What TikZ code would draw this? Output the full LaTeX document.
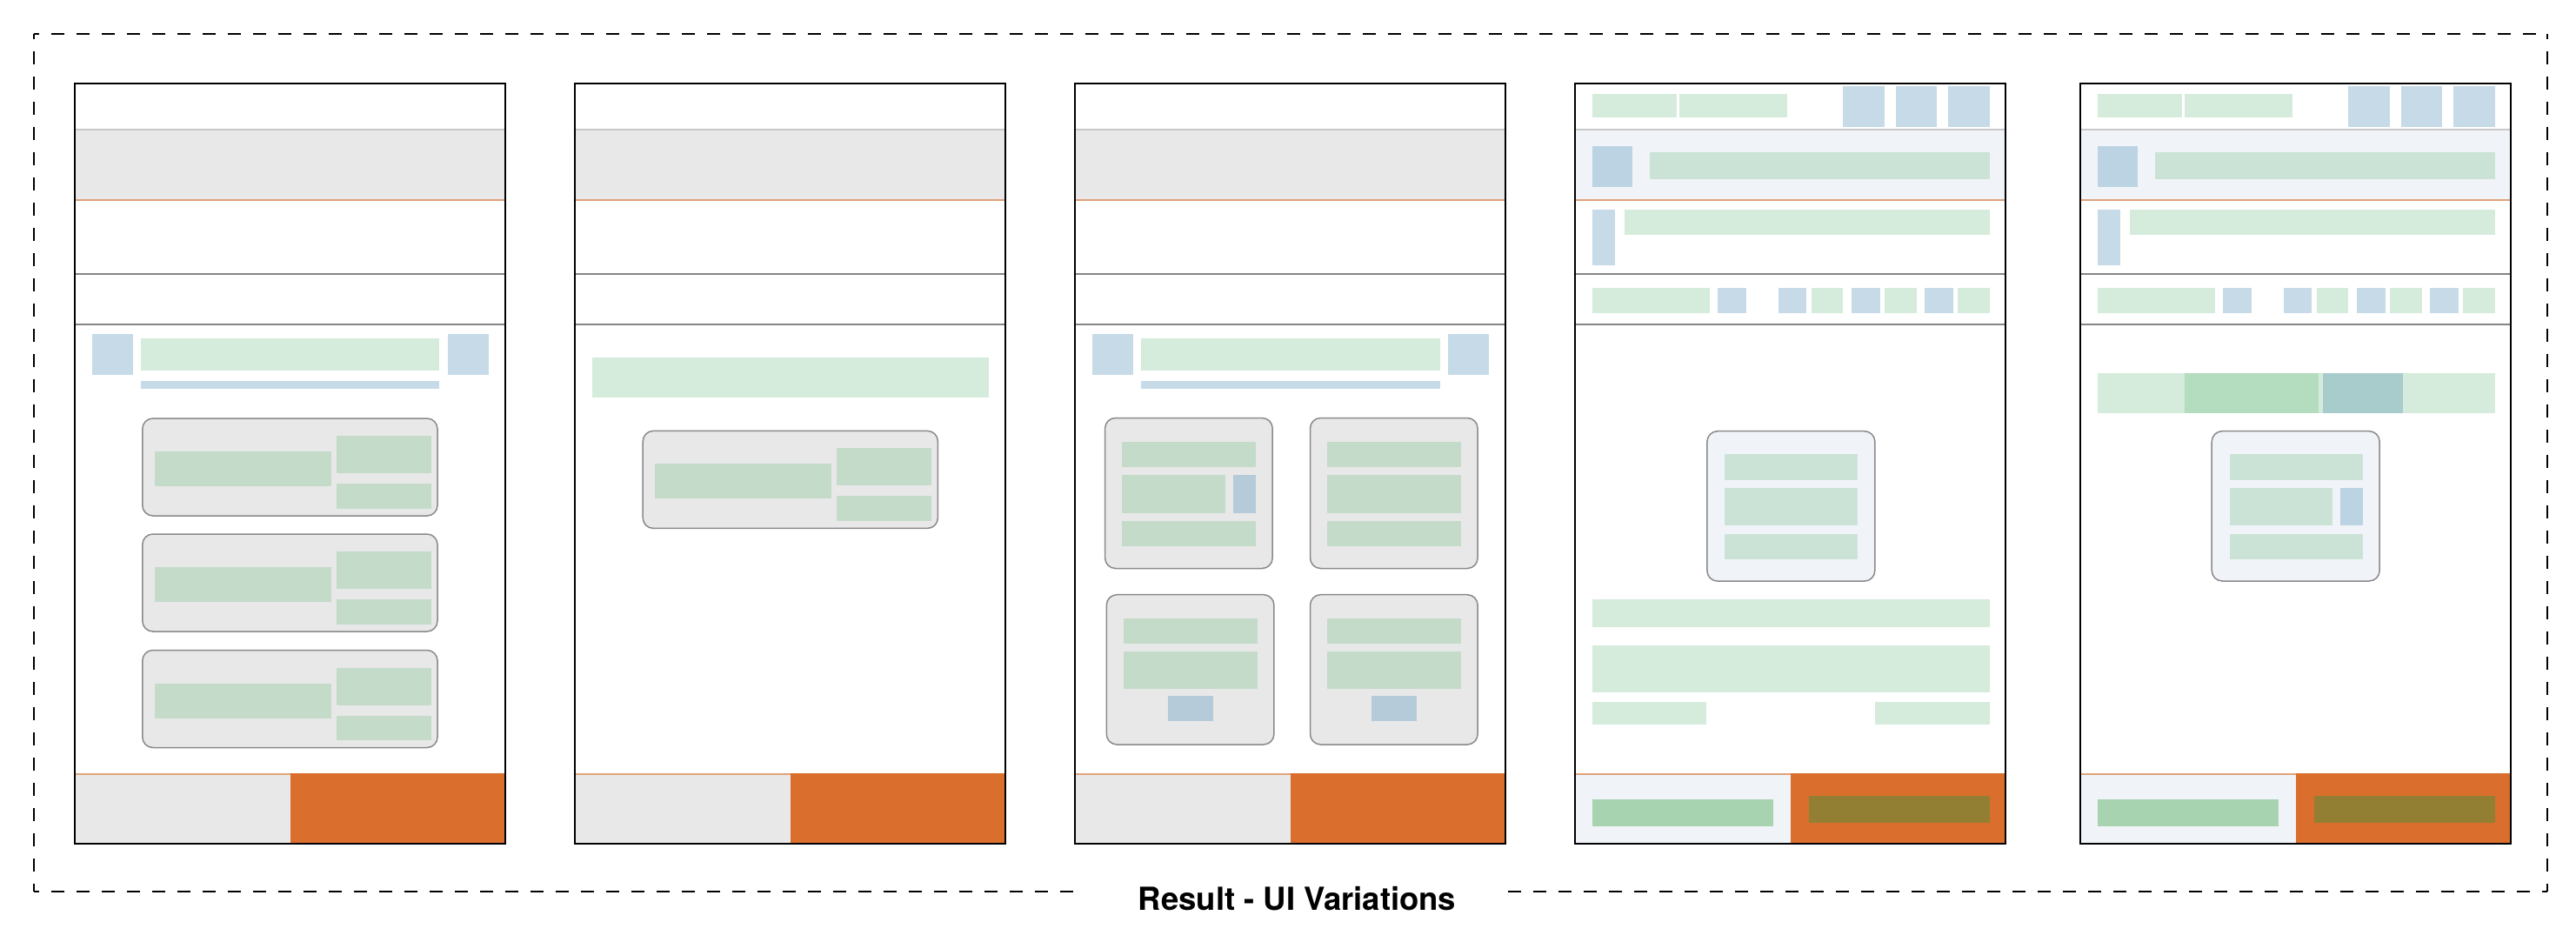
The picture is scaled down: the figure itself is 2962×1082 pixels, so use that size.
\documentclass[tikz,border=0pt]{standalone}
\usepackage{fontspec}
\newfontfamily\labelfont{TeX Gyre Heros}
\definecolor{lgreen}{HTML}{D5EBDB}
\definecolor{cgreen}{HTML}{C4DBCA}
\definecolor{bgreen}{HTML}{CBE3D6}
\definecolor{lblue}{HTML}{C6DBE7}
\definecolor{cblue}{HTML}{B5CBD9}
\definecolor{bblue}{HTML}{BBD3E3}
\definecolor{bandgray}{HTML}{E8E8E8}
\definecolor{bandlight}{HTML}{F0F4F8}
\definecolor{uiorange}{HTML}{DA6E2C}
\definecolor{sepor}{HTML}{E0A27A}
\definecolor{olive}{HTML}{937F33}
\definecolor{btngreen}{HTML}{A8D3B1}
\definecolor{tabgreen}{HTML}{B4DCBF}
\definecolor{tabteal}{HTML}{A7CCCB}
\definecolor{lightline}{HTML}{C8C8C8}
\definecolor{darkline}{HTML}{858585}
\definecolor{cardline}{HTML}{8A8A8A}
\tikzset{
  dashbox/.style={draw=black,line width=2pt,dash pattern=on 15pt off 14pt,dash phase=9pt},
  panelborder/.style={draw=black,line width=2pt},
  toplinestyle/.style={draw=lightline,line width=2pt},
  grayline/.style={draw=darkline,line width=1.8pt},
  orangesep/.style={draw=sepor,line width=2.5pt},
  cardgray/.style={draw=cardline,fill=bandgray,line width=1.5pt,rounded corners=12pt},
  cardlight/.style={draw=cardline,fill=bandlight,line width=1.5pt,rounded corners=12pt},
  labelstyle/.style={font=\labelfont\bfseries\fontsize{36.5}{40}\selectfont,text=black,inner sep=0pt}
}
\newcommand\uib[5]{\fill[#1] (#2,#3) rectangle (#4,#5);}
% panel frame: #1 band colour, #2 bottom-left colour
\newcommand\UIframe[2]{%
  \fill[white] (0,96) rectangle (495,970);
  \fill[#1] (0,148.8) rectangle (495,230);
  \draw[toplinestyle] (0,148.8) -- (495,148.8);
  \draw[orangesep] (0,230) -- (495,230);
  \draw[grayline] (0,315) -- (495,315);
  \draw[grayline] (0,373.3) -- (495,373.3);
  \fill[#2] (0,890) rectangle (247.6,970);
  \fill[uiorange] (247.6,889.2) rectangle (495,970);
  \draw[orangesep,line width=1.8pt] (0,890) -- (247.6,890);
}
\newcommand\UIborder{\draw[panelborder] (0,96) rectangle (495,970);}
% list card (panels 1 and 2), #1 = top
\newcommand\UIcardA[1]{%
  \draw[cardgray] (77.8,#1) rectangle (417,#1+112);
  \uib{cgreen}{92}{#1+38}{294.8}{#1+78}
  \uib{cgreen}{300.5}{#1+20}{410}{#1+63}
  \uib{cgreen}{300.5}{#1+75}{410}{#1+103.5}
}
% header with two blue squares
\newcommand\UIheadA{%
  \uib{lblue}{19.5}{383.5}{66.8}{430.5}
  \uib{lgreen}{76}{389}{419.3}{425.7}
  \uib{lblue}{428.5}{383.5}{476}{430.5}
  \uib{lblue}{76}{438.4}{419.3}{447.4}
}
% header of panels 4 and 5
\newcommand\UIheadB{%
  \uib{lgreen}{19.6}{107.9}{116.4}{134.8}
  \uib{lgreen}{120}{107.9}{244}{134.8}
  \uib{lblue}{308}{98.6}{355.7}{145.8}
  \uib{lblue}{368.5}{98.6}{416}{145.8}
  \uib{lblue}{428.7}{98.6}{476.3}{145.8}
  \uib{bblue}{19.6}{168.2}{65.4}{215.4}
  \uib{bgreen}{85.7}{175.4}{476.3}{206}
  \uib{lblue}{19.6}{240.8}{45.1}{304.5}
  \uib{lgreen}{56.4}{240.8}{476.3}{269.8}
  \uib{lgreen}{19.6}{330.7}{154.6}{359.7}
  \uib{lblue}{163.9}{330.7}{196.6}{359.7}
  \uib{lblue}{233.5}{330.7}{265.8}{359.7}
  \uib{lgreen}{271.6}{330.7}{307.9}{359.7}
  \uib{lblue}{317.5}{330.7}{350.2}{359.7}
  \uib{lgreen}{355.7}{330.7}{392.2}{359.7}
  \uib{lblue}{401.5}{330.7}{434.2}{359.7}
  \uib{lgreen}{439.8}{330.7}{476.3}{359.7}
  \uib{btngreen}{19.6}{918.8}{227.6}{949.5}
  \uib{olive}{268.2}{915}{476.3}{945.7}
}
\begin{document}
\begin{tikzpicture}[x=1pt,y=-1pt]
\useasboundingbox (0,0) rectangle (2962,1082);
\fill[white] (0,0) rectangle (2962,1082);

% outer dashed frame
\draw[dashbox] (38.5,39) -- (2929.3,39);
\draw[dashbox] (38.5,39) -- (38.5,1025);
\draw[dashbox] (2929.3,39) -- (2929.3,1025);
\draw[dashbox] (38.5,1025) -- (1243,1025);
\draw[dashbox] (2929.3,1025) -- (1727,1025);
\node[labelstyle,anchor=base] (lbl) at (1491.5,1046.7) {Result - UI Variations};

% panel 1
\begin{scope}[shift={(86,0)}]
  \UIframe{bandgray}{bandgray}
  \UIheadA
  \UIcardA{481}
  \UIcardA{614}
  \UIcardA{747.5}
  \UIborder
\end{scope}

% panel 2
\begin{scope}[shift={(661.4,0)}]
  \UIframe{bandgray}{bandgray}
  \uib{lgreen}{19.2}{411}{475.6}{456.8}
  \UIcardA{495.4}
  \UIborder
\end{scope}

% panel 3
\begin{scope}[shift={(1236.2,0)}]
  \UIframe{bandgray}{bandgray}
  \UIheadA
  \begin{scope}[shift={(34.4,480.5)}]
    \draw[cardgray] (0,0) rectangle (192.6,173);
    \uib{cgreen}{19.7}{27.5}{173.3}{56.2}
    \uib{cgreen}{19.7}{65.5}{138.4}{109.2}
    \uib{cblue}{147.8}{65.5}{173.3}{109.2}
    \uib{cgreen}{19.7}{118.5}{173.3}{147.1}
  \end{scope}
  \begin{scope}[shift={(270.3,480.5)}]
    \draw[cardgray] (0,0) rectangle (192.6,173);
    \uib{cgreen}{19.7}{27.5}{173.3}{56.2}
    \uib{cgreen}{19.7}{65.5}{173.3}{109.2}
    \uib{cgreen}{19.7}{118.5}{173.3}{147.1}
  \end{scope}
  \begin{scope}[shift={(36.1,683.7)}]
    \draw[cardgray] (0,0) rectangle (192.6,172.3);
    \uib{cgreen}{19.7}{27}{173.3}{56}
    \uib{cgreen}{19.7}{65.5}{173.3}{108.5}
    \uib{cblue}{70.8}{116.4}{122.2}{145.4}
  \end{scope}
  \begin{scope}[shift={(270.3,683.7)}]
    \draw[cardgray] (0,0) rectangle (192.6,172.3);
    \uib{cgreen}{19.7}{27}{173.3}{56}
    \uib{cgreen}{19.7}{65.5}{173.3}{108.5}
    \uib{cblue}{70.8}{116.4}{122.2}{145.4}
  \end{scope}
  \UIborder
\end{scope}

% panel 4
\begin{scope}[shift={(1811.4,0)}]
  \UIframe{bandlight}{bandlight}
  \UIheadB
  \draw[cardlight] (151.5,495.7) rectangle (344.4,668.1);
  \uib{bgreen}{171.1}{522.2}{324.4}{551.5}
  \uib{bgreen}{171.1}{561.1}{324.4}{603.8}
  \uib{bgreen}{171.1}{613.8}{324.4}{642.6}
  \uib{lgreen}{19.6}{688.8}{476.3}{720.8}
  \uib{lgreen}{19.6}{741.8}{476.3}{795.9}
  \uib{lgreen}{19.6}{807}{150.8}{832.7}
  \uib{lgreen}{344.7}{807}{476.3}{832.7}
  \UIborder
\end{scope}

% panel 5
\begin{scope}[shift={(2392.4,0)}]
  \UIframe{bandlight}{bandlight}
  \UIheadB
  \uib{lgreen}{19.6}{429.2}{476.3}{474.7}
  \uib{tabgreen}{119.6}{429.2}{273.1}{474.7}
  \uib{tabteal}{278.6}{429.2}{370.2}{474.7}
  \draw[cardlight] (150.8,495.7) rectangle (343.7,668);
  \uib{bgreen}{171.2}{522.2}{324.4}{551.5}
  \uib{bgreen}{171.2}{561.1}{289.6}{603.8}
  \uib{bblue}{298.9}{561.1}{324.4}{603.8}
  \uib{bgreen}{171.2}{613.8}{324.4}{642.6}
  \UIborder
\end{scope}
\end{tikzpicture}
\end{document}
